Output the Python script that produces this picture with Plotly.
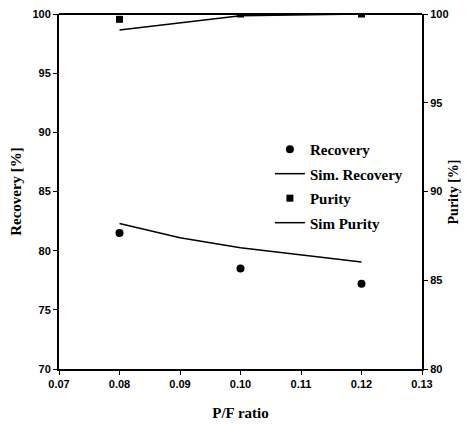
import plotly.graph_objects as go

pf_exp = [0.08, 0.10, 0.12]
recovery = [81.5, 78.5, 77.2]
purity = [99.7, 100.0, 100.0]

pf_sim = [0.08, 0.09, 0.10, 0.11, 0.12]
sim_recovery = [82.3, 81.1, 80.25, 79.65, 79.05]
pf_sim_p = [0.08, 0.10, 0.12]
sim_purity = [99.1, 99.9, 100.0]

x_ticks = [0.07, 0.08, 0.09, 0.10, 0.11, 0.12, 0.13]
x_labels = ["0.07", "0.08", "0.09", "0.10", "0.11", "0.12", "0.13"]

serif = "Liberation Serif"
sans = "Liberation Sans"
title_font = dict(family=serif, size=15, color="black", weight="bold")

fig = go.Figure()
fig.add_trace(go.Scatter(x=pf_exp, y=recovery, mode="markers", name="Recovery", legendgroup="a",
                         marker=dict(symbol="circle", size=8, color="black")))
fig.add_trace(go.Scatter(x=pf_sim, y=sim_recovery, mode="lines", name="Sim. Recovery", legendgroup="b",
                         line=dict(color="black", width=1.5)))
fig.add_trace(go.Scatter(x=pf_exp, y=purity, mode="markers", name="Purity", yaxis="y2", legendgroup="c",
                         marker=dict(symbol="square", size=7, color="black")))
fig.add_trace(go.Scatter(x=pf_sim_p, y=sim_purity, mode="lines", name="Sim Purity", yaxis="y2", legendgroup="d",
                         line=dict(color="black", width=1.5)))

axis_common = dict(showgrid=False, zeroline=False, showline=True, linecolor="black",
                   linewidth=2, ticks="outside", ticklen=4, tickcolor="black",
                   automargin=False, ticklabeloverflow="allow",
                   tickfont=dict(family=sans, size=11, color="black", weight="bold"))

fig.update_layout(
    width=465, height=416,
    margin=dict(l=51, r=51, t=6, b=55, autoexpand=False),
    paper_bgcolor="white", plot_bgcolor="white",
    showlegend=True,
    legend=dict(x=0.581, y=0.665, xanchor="left", yanchor="top",
                bgcolor="rgba(0,0,0,0)", tracegroupgap=2,
                font=dict(family=serif, size=15, color="black", weight="bold")),
    xaxis=dict(range=[0.07, 0.13], tickvals=x_ticks, ticktext=x_labels, mirror=False,
               title=dict(text="P/F ratio", standoff=18, font=title_font),
               **axis_common),
    yaxis=dict(range=[70, 100], dtick=5, tick0=70,
               title=dict(text="Recovery [%]", standoff=10, font=title_font),
               **axis_common),
    yaxis2=dict(range=[80, 100], dtick=5, tick0=80, overlaying="y", side="right",
                **axis_common),
    annotations=[dict(text="Purity [%]", xref="paper", yref="paper", x=1.088, y=0.5,
                      textangle=-90, showarrow=False,
                      font=dict(family=serif, size=14, color="black", weight="bold"),
                      xanchor="center", yanchor="middle")],
    shapes=[dict(type="line", xref="paper", yref="paper", x0=0, x1=1, y0=1, y1=1,
                 line=dict(color="black", width=2))],
)

fig.write_html("out.html")
